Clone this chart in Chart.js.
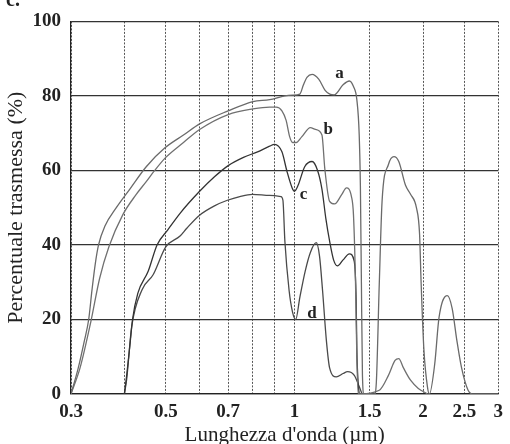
<!DOCTYPE html>
<html>
<head>
<meta charset="utf-8">
<script src="https://cdn.jsdelivr.net/npm/chart.js@4.4.1/dist/chart.umd.min.js"></script>
<style>
html,body{margin:0;padding:0;background:#fff;}
#wrap{width:510px;height:444px;}
canvas{display:block;}
</style>
</head>
<body>
<div id="wrap"><canvas id="c" width="510" height="444"></canvas></div>
<script>
// ---- data ----
const xTickValues = [0.3,0.4,0.5,0.6,0.7,0.8,0.9,1,1.5,2,2.5,3];
const xTickLabels = ['0.3','','0.5','','0.7','','','1','1.5','2','2.5','3'];
const yTickValues = [0,20,40,60,80,100];

const seriesNames = ['a','b','c','d'];

const xA = [0.30,0.312,0.322,0.33,0.336,0.342,0.348,0.36,0.383,0.412,0.45,0.497,0.55,0.60,0.70,0.80,0.875,0.95,0.99,1.03,1.05,1.07,1.10,1.14,1.18,1.21,1.24,1.30,1.345,1.375,1.40,1.418,1.427,1.435,1.443,1.455,1.54,1.555,1.58,1.604,1.66,1.71,1.755,1.82,1.87,1.93,1.963,1.98,2.01,2.048,2.07,2.13,2.18,2.28,2.34,2.40,2.46,2.55,2.62,3.0];
const yA = [0,7,14,20,28,35,40,45,50,55,61,66,69.5,72.5,76,78.5,79,80,80.2,80.5,83,85,85.8,84.5,81.5,80.5,80.3,83,84,82.5,79,69.6,56,29.6,5,0,0,3,29.6,51.7,61.6,63.7,62.4,56,53.6,50,43,29.6,11.7,2,0,8,20.5,26.4,23,14.4,7.2,1,0,0];

const xB = [0.30,0.315,0.334,0.35,0.368,0.397,0.426,0.45,0.471,0.50,0.55,0.60,0.70,0.80,0.875,0.907,0.935,0.956,0.975,0.99,1.01,1.04,1.09,1.12,1.16,1.178,1.209,1.242,1.29,1.324,1.36,1.375,1.39,1.40,1.41,1.58,1.66,1.72,1.755,1.80,1.87,1.95,2.05];
const yB = [0,7,19.5,31,39.5,48.2,53.5,57,60,63.5,67.5,71,75,76.5,77,77,76,73.5,69,67.5,67.5,69,71.5,71,69.5,60.5,51.7,51,53.5,55.3,53,48,30,10,0,1,5,9,9.5,7,3.7,1.5,0];

const xC = [0.40,0.405,0.412,0.418,0.43,0.455,0.477,0.505,0.54,0.60,0.65,0.70,0.76,0.82,0.875,0.898,0.935,0.961,0.988,1.0,1.02,1.057,1.10,1.133,1.16,1.185,1.209,1.235,1.261,1.30,1.345,1.38,1.395,1.40,1.41,1.418];
const yC = [0,5,13,20,27,33,40,44,48.5,54.4,58.3,61.3,63.5,65,66.5,67,65,59.7,55.3,54.4,56,61,62.4,60,55,47,41,36,34.4,36,37.6,35.7,25,12,3,0];

const xD = [0.40,0.405,0.416,0.44,0.467,0.50,0.54,0.56,0.60,0.65,0.697,0.745,0.797,0.875,0.93,0.94,0.95,0.972,0.99,1.007,1.03,1.06,1.09,1.125,1.145,1.164,1.188,1.209,1.253,1.30,1.332,1.381,1.418,1.44];
const yD = [0,4,18,28,32,39.5,42.4,44.5,48,50.5,52,53,53.6,53.3,53,52,41,27.7,22,20,26,33,38,40.6,37,27.7,14.4,7,4.6,5.5,6,5,2,0];

// curve label anchor positions (data coordinates)
const labelX = [1.275,1.2,1.05,1.10];
const labelY = [86,71,53.6,21.6];

const xTitle = "Lunghezza d'onda (\u00b5m)";
const yTitle = 'Percentuale trasmessa (%)';

// ---- build ----
const toPts = (xs, ys) => xs.map((x, i) => ({x: x, y: ys[i]}));
const colors = ['#6a6a6a', '#707070', '#333333', '#4a4a4a'];
const allX = [xA, xB, xC, xD];
const allY = [yA, yB, yC, yD];

const datasets = seriesNames.map((n, i) => ({
  label: n,
  data: toPts(allX[i], allY[i]),
  borderColor: colors[i],
  borderWidth: 1.3,
  pointRadius: 0,
  fill: false,
  cubicInterpolationMode: 'monotone'
}));

const serif = "'Liberation Serif','DejaVu Serif',serif";

const overlay = {
  id: 'overlay',
  afterDatasetsDraw(chart) {
    const ctx = chart.ctx, xs = chart.scales.x, ys = chart.scales.y;
    ctx.save();
    ctx.fillStyle = '#222';
    ctx.font = 'bold 17px ' + serif;
    ctx.textAlign = 'center';
    ctx.textBaseline = 'middle';
    seriesNames.forEach((n, i) => {
      ctx.fillText(n, xs.getPixelForValue(labelX[i]), ys.getPixelForValue(labelY[i]));
    });
    ctx.restore();
  },
  afterDraw(chart) {
    const ctx = chart.ctx, ca = chart.chartArea;
    ctx.save();
    ctx.fillStyle = '#222';
    ctx.font = '21px ' + serif;
    ctx.textAlign = 'center';
    ctx.textBaseline = 'middle';
    ctx.fillText(xTitle, (ca.left + ca.right) / 2, 435);
    ctx.font = '22px ' + serif;
    ctx.translate(16, (ca.top + ca.bottom) / 2);
    ctx.rotate(-Math.PI / 2);
    ctx.fillText(yTitle, 0, 0);
    ctx.restore();
    ctx.save();
    ctx.fillStyle = '#222';
    ctx.font = 'bold 20px ' + serif;
    ctx.textAlign = 'left';
    ctx.textBaseline = 'alphabetic';
    ctx.fillText('c.', 6, 6);
    ctx.restore();
  }
};

new Chart(document.getElementById('c'), {
  type: 'line',
  data: { datasets: datasets },
  options: {
    responsive: false,
    devicePixelRatio: 1,
    animation: false,
    events: [],
    layout: { padding: { left: 0, top: 19, right: 11, bottom: 0 } },
    plugins: { legend: { display: false }, tooltip: { enabled: false } },
    scales: {
      x: {
        type: 'logarithmic',
        min: 0.3, max: 3,
        afterBuildTicks(scale) { scale.ticks = xTickValues.map(v => ({ value: v })); },
        afterFit(scale) { scale.height = 50; },
        ticks: {
          autoSkip: false, maxRotation: 0, padding: 7,
          color: '#222',
          font: { family: serif, size: 19, weight: 'bold' },
          callback(v) { const i = xTickValues.indexOf(v); return i >= 0 ? xTickLabels[i] : ''; }
        },
        grid: { color: '#555', lineWidth: 1, drawTicks: false },
        border: { display: true, color: '#222', width: 1.2, dash: [2, 1.5] }
      },
      y: {
        min: 0, max: 100,
        afterBuildTicks(scale) { scale.ticks = yTickValues.map(v => ({ value: v })); },
        afterFit(scale) { scale.width = 71; },
        ticks: {
          padding: 10, color: '#222',
          font: { family: serif, size: 19, weight: 'bold' }
        },
        grid: { color: '#333', lineWidth: 1.2, drawTicks: false },
        border: { display: true, color: '#222', width: 1.2 }
      }
    }
  },
  plugins: [overlay]
});
</script>
</body>
</html>
